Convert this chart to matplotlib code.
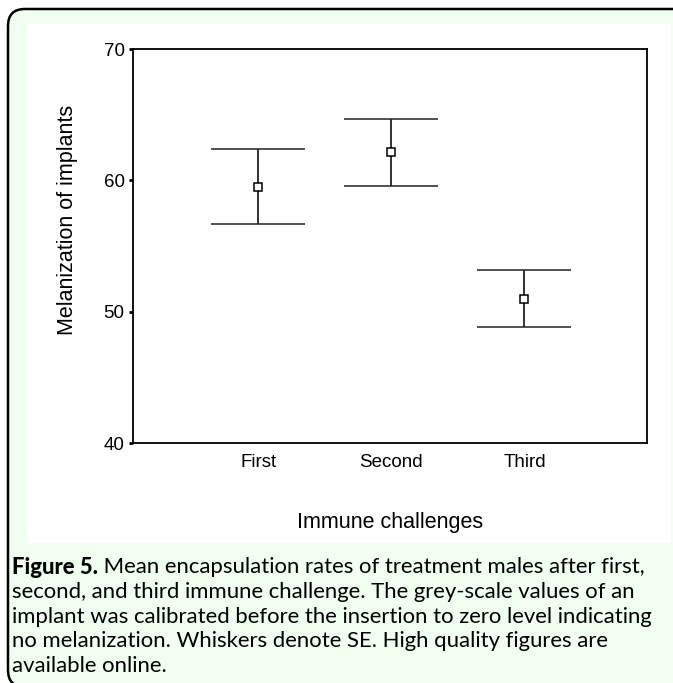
import matplotlib.pyplot as plt
from matplotlib.patches import FancyBboxPatch, Rectangle

categories = ["First", "Second", "Third"]
means = [59.5, 62.15, 51.0]
se = [2.85, 2.55, 2.15]
yticks = [40, 50, 60, 70]

caption_bold = "Figure 5."
caption_lines = [
    " Mean encapsulation rates of treatment males after first,",
    "second, and third immune challenge. The grey-scale values of an",
    "implant was calibrated before the insertion to zero level indicating",
    "no melanization. Whiskers denote SE. High quality figures are",
    "available online.",
]

W, H = 673, 683
fig = plt.figure(figsize=(W / 100, H / 100), dpi=100)
fig.patch.set_facecolor("white")

# rounded caption box and white panel (pixel coords)
box = FancyBboxPatch((8 / W, -4 / H), 690 / W, (674 + 4) / H,
                     boxstyle="round,pad=0,rounding_size=0.025",
                     transform=fig.transFigure, facecolor="#f0fff0",
                     edgecolor="black", linewidth=1.8, zorder=0)
fig.patches.append(box)
panel = Rectangle((27 / W, (H - 543) / H), (671 - 27) / W, (543 - 24) / H,
                  transform=fig.transFigure, facecolor="white",
                  edgecolor="none", zorder=0.5)
fig.patches.append(panel)

ax = fig.add_axes([133 / W, (H - 443) / H, (647 - 133) / W, (443 - 49) / H])
ax.set_zorder(2)
ax.set_facecolor("white")
x = range(1, len(categories) + 1)
ax.errorbar(x, means, yerr=se, fmt="s", color="black", mfc="white",
            mec="black", ms=5.5, mew=1.1, elinewidth=1.3, capsize=34,
            capthick=1.3, ecolor="#222222")
ax.set_xlim(0.06, 3.92)
ax.set_ylim(40, 70)
ax.set_yticks(yticks)
ax.set_xticks(list(x))
ax.set_xticklabels(categories)
for s in ax.spines.values():
    s.set_linewidth(1.3)
ax.tick_params(axis="x", length=0, pad=8, labelsize=13.5)
ax.tick_params(axis="y", length=3, width=2, pad=3, labelsize=13.5)
for lab in ax.get_xticklabels() + ax.get_yticklabels():
    lab.set_family("Liberation Sans")
ax.set_ylabel("Melanization of implants", fontsize=15.5, family="Liberation Sans")
ax.yaxis.set_label_coords(-0.107, 0.566)
ax.set_xlabel("Immune challenges", fontsize=15.5, family="Liberation Sans")
ax.xaxis.set_label_coords(0.5, -0.175)

# caption
cap_font = "Lato"
cap_size = 15.9
y0 = 567
t = fig.text(12 / W, 1 - y0 / H, caption_bold, fontsize=cap_size,
             family=cap_font, weight="black", va="center", zorder=3)
fig.canvas.draw()
bb = t.get_window_extent()
fig.text(bb.x1 / W, 1 - y0 / H, caption_lines[0], fontsize=cap_size,
         family=cap_font, va="center", zorder=3)
for i, line in enumerate(caption_lines[1:], start=1):
    fig.text(12 / W, 1 - (y0 + 24.8 * i) / H, line, fontsize=cap_size,
             family=cap_font, va="center", zorder=3)

fig.savefig("out.png", dpi=100, facecolor=fig.get_facecolor())
